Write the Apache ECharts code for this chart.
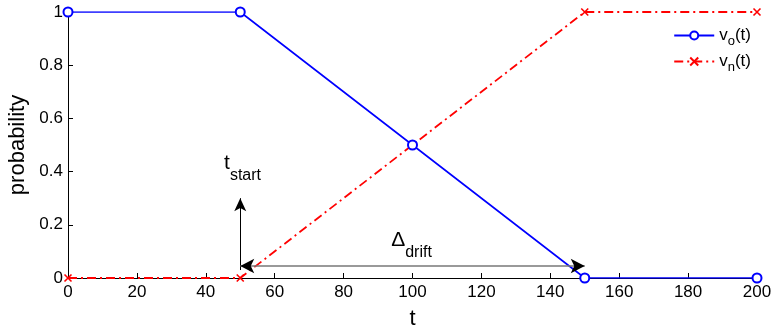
<!DOCTYPE html>
<html>
<head>
<meta charset="utf-8">
<script src="https://cdn.jsdelivr.net/npm/echarts@6/dist/echarts.min.js"></script>
<style>
  html, body { margin: 0; padding: 0; background: #fff; }
  #chart { width: 774px; height: 329px; }
</style>
</head>
<body>
<div id="chart"></div>
<script>
// data
const tValues = [0, 50, 100, 150, 200];
const voValues = [1, 1, 0.5, 0, 0];
const vnValues = [0, 0, 0.5, 1, 1];

// annotation anchors (data coords)
const startArrow = [[50, 0.03], [50, 0.30]];
const driftArrow = [[50, 0.045], [150, 0.045]];
const startLabelAt = [45.3, 0.41];
const driftLabelAt = [93.8, 0.12];

const font = 'Liberation Sans, Arial, sans-serif';
const crossSymbol = 'path://M0,0L10,10M10,0L0,10';

let chart = echarts.init(document.getElementById('chart'));

function pairs(ys) {
    return tValues.map((t, i) => [t, ys[i]]);
}

function subLabel(main, sub) {
    return {
        show: true,
        position: 'inside',
        align: 'left',
        verticalAlign: 'middle',
        formatter: '{m|' + main + '}{s|' + sub + '}',
        rich: {
            m: { fontFamily: font, fontSize: 21, color: '#000', padding: [0, 0, 12, 0] },
            s: { fontFamily: font, fontSize: 16, color: '#000', padding: [14, 0, 0, 0] }
        }
    };
}

let option = {
    animation: false,
    grid: { left: 68, right: 17, top: 12, bottom: 51, outerBoundsMode: 'none', containLabel: false },
    legend: {
        orient: 'vertical',
        right: 18,
        top: 22,
        itemWidth: 40,
        itemHeight: 10,
        itemGap: 5,
        textStyle: { fontFamily: font, fontSize: 17, color: '#000',
            rich: { sub: { fontSize: 13, padding: [12, 0, 0, 0], fontFamily: font } } },
        formatter: function (name) {
            return name === 'vo' ? 'v{sub|o}(t)' : 'v{sub|n}(t)';
        },
        data: ['vo', 'vn']
    },
    xAxis: {
        type: 'value',
        min: 0, max: 200, interval: 20,
        name: 't',
        nameLocation: 'middle',
        nameGap: 30,
        nameTextStyle: { fontFamily: font, fontSize: 22, color: '#000' },
        axisLine: { lineStyle: { color: '#000', width: 1 } },
        axisTick: { inside: true, length: 5, lineStyle: { color: '#000' } },
        axisLabel: { fontFamily: font, fontSize: 17, color: '#000', margin: 6 },
        splitLine: { show: false }
    },
    yAxis: {
        type: 'value',
        min: 0, max: 1, interval: 0.2,
        name: 'probability',
        nameLocation: 'middle',
        nameGap: 33,
        nameTextStyle: { fontFamily: font, fontSize: 22, color: '#000' },
        axisLine: { show: true, lineStyle: { color: '#000', width: 1 } },
        axisTick: { show: true, inside: true, length: 5, lineStyle: { color: '#000' } },
        axisLabel: { fontFamily: font, fontSize: 17, color: '#000', margin: 5 },
        splitLine: { show: false }
    },
    series: [
        {
            name: 'vo',
            type: 'line',
            data: pairs(voValues),
            symbol: 'emptyCircle',
            symbolSize: 9,
            showAllSymbol: true,
            lineStyle: { color: '#0000ff', width: 1.6 },
            itemStyle: { color: '#0000ff', borderWidth: 1.6 },
            z: 3
        },
        {
            name: 'vn',
            type: 'line',
            data: pairs(vnValues),
            symbol: crossSymbol,
            symbolSize: 7,
            showAllSymbol: true,
            lineStyle: { color: '#ff0000', width: 1.8, type: [9, 4, 2, 4] },
            itemStyle: { color: '#ff0000', borderColor: '#ff0000', borderWidth: 1.6 },
            z: 2
        },
        {
            // annotations only
            type: 'line',
            data: [],
            silent: true,
            markLine: {
                silent: true,
                animation: false,
                label: { show: false },
                emphasis: { disabled: true },
                data: [
                    [
                        { coord: startArrow[0], symbol: 'none', lineStyle: { color: '#000', width: 1, type: 'solid' } },
                        { coord: startArrow[1], symbol: 'arrow', symbolSize: [9, 13] }
                    ],
                    [
                        { coord: driftArrow[0], symbol: 'none', lineStyle: { color: '#777', width: 1.5, type: 'solid' } },
                        { coord: driftArrow[1], symbol: 'none' }
                    ],
                    [
                        { coord: driftArrow[0], symbol: 'arrow', symbolSize: [11, 14], lineStyle: { color: '#000', width: 0, type: 'solid' } },
                        { coord: driftArrow[1], symbol: 'arrow', symbolSize: [11, 14] }
                    ]
                ]
            },
            markPoint: {
                silent: true,
                symbol: 'circle',
                symbolSize: 1,
                itemStyle: { color: 'rgba(0,0,0,0)' },
                data: [
                    { coord: startLabelAt, label: subLabel('t', 'start') },
                    { coord: driftLabelAt, label: subLabel('Δ', 'drift') }
                ]
            }
        }
    ]
};

chart.setOption(option);
</script>
</body>
</html>
